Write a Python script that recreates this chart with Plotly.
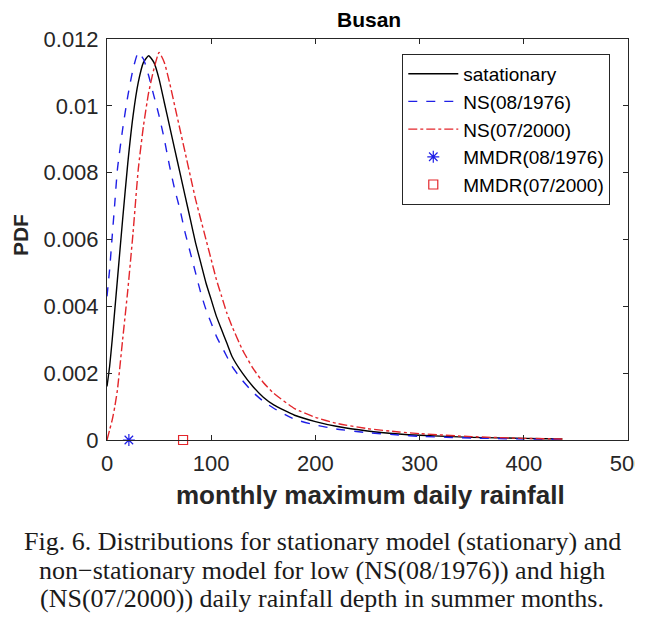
import plotly.graph_objects as go

# ---- data ----
x_grid = [0, 2.5, 5, 7.5, 10, 15, 20, 25, 30, 35, 40, 45, 50, 55, 60, 65, 70, 75, 80, 85,
          90, 95, 100, 105, 110, 115, 120, 130, 140, 150, 160, 180, 200, 220, 250, 280, 300,
          350, 400, 437]

pdf_stationary = [0.0016, 0.0022, 0.0030, 0.0039, 0.0048, 0.0066, 0.0083, 0.0097, 0.0107, 0.0113,
                  0.0115, 0.0113, 0.0108, 0.0101, 0.0094, 0.0087, 0.0080, 0.0073, 0.0066, 0.0059,
                  0.0053, 0.0047, 0.0042, 0.0037, 0.0033, 0.0029, 0.0025, 0.0020, 0.0016,
                  0.00128, 0.00105, 0.00074, 0.00055, 0.00041, 0.00027, 0.00018, 0.00014,
                  0.00008, 0.00005, 0.00003]

pdf_ns_1976 = [0.0043, 0.0051, 0.0061, 0.0071, 0.0081, 0.0093, 0.0103, 0.0111, 0.0116, 0.0114,
               0.0109, 0.0103, 0.0097, 0.0090, 0.0082, 0.0075, 0.0069, 0.0062, 0.0056, 0.0050,
               0.0044, 0.0039, 0.0035, 0.0031, 0.0028, 0.0025, 0.0022, 0.00178, 0.00143,
               0.00116, 0.00095, 0.00062, 0.00045, 0.00033, 0.00022, 0.00015, 0.00011,
               0.00006, 0.00003, 0.00002]

pdf_ns_2000 = [0.0, 0.0003, 0.0006, 0.0010, 0.0015, 0.0030, 0.0045, 0.0062, 0.0081, 0.0094,
               0.0104, 0.0111, 0.0116, 0.0113, 0.0107, 0.0100, 0.0093, 0.0086, 0.0079, 0.0072,
               0.0066, 0.0060, 0.0054, 0.0048, 0.0043, 0.0038, 0.0034, 0.0027, 0.00215,
               0.00172, 0.0014, 0.00094, 0.00068, 0.0005, 0.00034, 0.00024, 0.00019,
               0.0001, 0.00005, 0.00003]

mmdr_1976_x = [21]
mmdr_1976_y = [0]
mmdr_2000_x = [73]
mmdr_2000_y = [0]

x_ticks = [0, 100, 200, 300, 400, 500]
y_ticks = [0, 0.002, 0.004, 0.006, 0.008, 0.01, 0.012]
y_tick_labels = ["0", "0.002", "0.004", "0.006", "0.008", "0.01", "0.012"]

title_text = "Busan"
x_label = "monthly maximum daily rainfall"
y_label = "PDF"
caption_lines = [
    "Fig. 6. Distributions for stationary model (stationary) and",
    "non\u2212stationary model for low (NS(08/1976)) and high",
    "(NS(07/2000)) daily rainfall depth in summer months.",
]

# ---- figure ----
SANS = "Liberation Sans, Arial, Helvetica, sans-serif"
SERIF = "Liberation Serif, Times New Roman, serif"
AX = "#262626"
BLUE = "#1f1fe6"
RED = "#e3262b"

fig = go.Figure()
fig.add_trace(go.Scatter(x=x_grid, y=pdf_stationary, mode="lines", name="satationary",
                         line=dict(color="black", width=1.4, shape="spline", smoothing=0.5)))
fig.add_trace(go.Scatter(x=x_grid, y=pdf_ns_1976, mode="lines", name="NS(08/1976)",
                         line=dict(color=BLUE, width=1.4, dash="dash", shape="spline", smoothing=0.5)))
fig.add_trace(go.Scatter(x=x_grid, y=pdf_ns_2000, mode="lines", name="NS(07/2000)",
                         line=dict(color=RED, width=1.4, dash="dashdot", shape="spline", smoothing=0.5)))
fig.add_trace(go.Scatter(x=mmdr_1976_x, y=mmdr_1976_y, mode="markers", name="MMDR(08/1976)",
                         marker=dict(symbol="asterisk-open", size=10, color=BLUE,
                                     line=dict(color=BLUE, width=1.2)), cliponaxis=False))
fig.add_trace(go.Scatter(x=mmdr_2000_x, y=mmdr_2000_y, mode="markers", name="MMDR(07/2000)",
                         marker=dict(symbol="square-open", size=9, color=RED,
                                     line=dict(color=RED, width=1.2)), cliponaxis=False))

axis_common = dict(showline=True, linecolor=AX, linewidth=1, mirror="ticks",
                   ticks="inside", ticklen=5, tickcolor=AX, showgrid=False, zeroline=False,
                   tickfont=dict(family=SANS, size=22, color=AX))

fig.update_xaxes(range=[0, 500], tickvals=x_ticks, ticktext=[str(v) for v in x_ticks],
                 ticklabelstandoff=4, **axis_common)
fig.update_yaxes(range=[0, 0.012], tickvals=y_ticks, ticktext=y_tick_labels,
                 ticklabelstandoff=3, **axis_common)

# page body has an 8px margin: figure is 651x610 drawn at (8, 8)
caption_y = [-0.2519, -0.3242, -0.3965]
annotations = [
    dict(text="<b>" + x_label + "</b>", xref="paper", yref="paper", x=0.506, y=-0.137,
         xanchor="center", yanchor="middle", showarrow=False,
         font=dict(family=SANS, size=26, color=AX)),
    dict(text="<b>" + y_label + "</b>", xref="paper", yref="paper", x=-0.167, y=0.511,
         xanchor="center", yanchor="middle", showarrow=False, textangle=-90,
         font=dict(family=SANS, size=21, color=AX)),
]
for line, yy in zip(caption_lines, caption_y):
    annotations.append(dict(text=line, xref="paper", yref="paper", x=0.4127, y=yy,
                            xanchor="center", yanchor="middle", showarrow=False,
                            font=dict(family=SERIF, size=26, color="#1a1a1a")))

fig.update_layout(
    width=651, height=610,
    margin=dict(l=99, r=31, t=31, b=178),
    paper_bgcolor="white", plot_bgcolor="white",
    title=dict(text="<b>" + title_text + "</b>", xref="paper", x=0.503, xanchor="center",
               y=1 - 12 / 610, yanchor="middle", font=dict(family=SANS, size=21, color="black")),
    showlegend=True,
    legend=dict(x=0.966, xanchor="right", y=0.963, yanchor="top",
                bgcolor="white", bordercolor=AX, borderwidth=1, itemwidth=50,
                font=dict(family=SANS, size=19, color="black"), tracegroupgap=0),
    annotations=annotations,
    shapes=[
        dict(type="rect", xref="paper", yref="paper", x0=1.013, x1=1.2, y0=-0.1, y1=-0.005,
             fillcolor="white", line=dict(width=0), layer="above"),
    ],
)

fig.write_html("out.html")
